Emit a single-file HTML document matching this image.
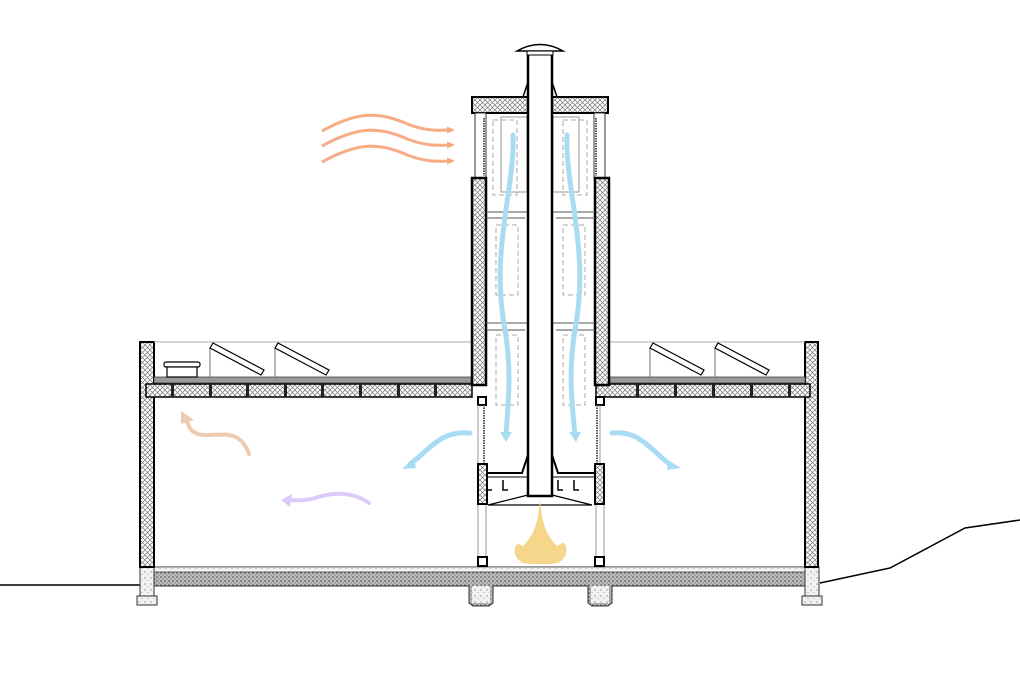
<!DOCTYPE html>
<html><head><meta charset="utf-8"><style>html,body{margin:0;padding:0;background:#fff}svg{display:block}</style></head><body>
<svg width="1020" height="680" viewBox="0 0 1020 680" xmlns="http://www.w3.org/2000/svg">
<defs>
<pattern id="ins" width="5" height="5" patternUnits="userSpaceOnUse">
<rect width="5" height="5" fill="#fff"/><path d="M0 0L5 5M5 0L0 5" stroke="#777" stroke-width="0.7"/></pattern>
<pattern id="conc" width="4" height="4" patternUnits="userSpaceOnUse">
<rect width="4" height="4" fill="#bdbdbd"/><circle cx="1" cy="1" r="0.8" fill="#444"/><circle cx="3" cy="3" r="0.6" fill="#666"/></pattern>
<pattern id="conc2" width="6" height="6" patternUnits="userSpaceOnUse">
<rect width="6" height="6" fill="#f2f2f2"/><circle cx="1" cy="2" r="0.6" fill="#666"/><circle cx="4" cy="4.5" r="0.5" fill="#888"/></pattern>
<marker id="ao" markerWidth="8" markerHeight="8" refX="5" refY="4" orient="auto" markerUnits="userSpaceOnUse"><path d="M0 0.5L8 4L0 7.5z" fill="#f8a882"/></marker>
</defs>
<path d="M0 585H140M820 583L890 568L965 528L1020 520" stroke="#000" stroke-width="1.5" fill="none"/>
<path d="M150 567H805V586H612V603L608 606H592L588 603V586H493V603L489 606H473L469 603V586H150Z" fill="url(#conc)" stroke="#333"/>
<rect x="150" y="567" width="655" height="5" fill="url(#conc2)" stroke="#333" stroke-width="0.7"/>
<path d="M472 586H490V603H472ZM591 586H609V603H591Z" fill="url(#conc2)"/>
<rect x="140" y="567" width="14" height="30" fill="url(#conc2)" stroke="#333"/>
<rect x="137" y="596" width="20" height="9" fill="url(#conc2)" stroke="#333"/>
<rect x="805" y="567" width="14" height="30" fill="url(#conc2)" stroke="#333"/>
<rect x="802" y="596" width="20" height="9" fill="url(#conc2)" stroke="#333"/>
<rect x="140" y="342" width="14" height="225" fill="url(#ins)" stroke="#000" stroke-width="2"/>
<rect x="805" y="342" width="13" height="225" fill="url(#ins)" stroke="#000" stroke-width="2"/>
<path d="M154 342H472M608 342H805" stroke="#aaa" stroke-width="1"/>
<rect x="154" y="377" width="318" height="6" fill="#999" stroke="#444" stroke-width="0.8"/>
<rect x="146" y="384" width="326" height="13" fill="url(#ins)" stroke="#000" stroke-width="1.5"/>
<rect x="608" y="377" width="197" height="6" fill="#999" stroke="#444" stroke-width="0.8"/>
<rect x="596" y="384" width="214" height="13" fill="url(#ins)" stroke="#000" stroke-width="1.5"/>
<g fill="#222"><rect x="171" y="384" width="3" height="13"/><rect x="209" y="384" width="3" height="13"/><rect x="246" y="384" width="3" height="13"/><rect x="284" y="384" width="3" height="13"/><rect x="321" y="384" width="3" height="13"/><rect x="359" y="384" width="3" height="13"/><rect x="397" y="384" width="3" height="13"/><rect x="434" y="384" width="3" height="13"/>
<rect x="636" y="384" width="3" height="13"/><rect x="674" y="384" width="3" height="13"/><rect x="712" y="384" width="3" height="13"/><rect x="750" y="384" width="3" height="13"/><rect x="788" y="384" width="3" height="13"/></g>
<g stroke="#000" fill="#fff" stroke-width="1.2">
<rect x="164" y="362" width="36" height="5" rx="2"/><rect x="167" y="367" width="30" height="10"/>
<path d="M210 377V348M275 377V348M650 377V348M715 377V348" stroke="#888"/>
<polygon points="210,348 213,343 264,370 261,375"/><polygon points="275,348 278,343 329,370 326,375"/>
<polygon points="650,348 653,343 704,370 701,375"/><polygon points="715,348 718,343 769,370 766,375"/>
</g>
<rect x="472" y="97" width="56" height="16" fill="url(#ins)" stroke="#000" stroke-width="2"/>
<rect x="552" y="97" width="56" height="16" fill="url(#ins)" stroke="#000" stroke-width="2"/>
<rect x="475" y="113" width="11" height="65" fill="#fff" stroke="#333"/>
<rect x="594" y="113" width="11" height="65" fill="#fff" stroke="#333"/>
<path d="M484 118V176M596 118V176" stroke="#555" stroke-width="2" stroke-dasharray="1.5 1"/>
<rect x="472" y="178" width="14" height="207" fill="url(#ins)" stroke="#000" stroke-width="2.5"/>
<rect x="595" y="178" width="14" height="207" fill="url(#ins)" stroke="#000" stroke-width="2.5"/>
<rect x="478" y="397" width="8" height="8" fill="#fff" stroke="#000" stroke-width="2"/>
<rect x="596" y="397" width="8" height="8" fill="#fff" stroke="#000" stroke-width="2"/>
<path d="M484 405V465M597 405V465" stroke="#555" stroke-width="2" stroke-dasharray="1.5 1"/>
<path d="M478 405V505M600 405V505" stroke="#999"/>
<rect x="478" y="464" width="9" height="40" fill="url(#ins)" stroke="#000" stroke-width="2"/>
<rect x="595" y="464" width="9" height="40" fill="url(#ins)" stroke="#000" stroke-width="2"/>
<path d="M478 505V560M486 505V560M596 505V560M604 505V560" stroke="#aaa" stroke-width="1.2"/>
<rect x="478" y="557" width="9" height="9" fill="#fff" stroke="#000" stroke-width="2"/>
<rect x="595" y="557" width="9" height="9" fill="#fff" stroke="#000" stroke-width="2"/>
<path d="M486 473H522L528 455M595 473H558L552 455" stroke="#000" stroke-width="2" fill="none"/>
<path d="M486 477H528M552 477H595" stroke="#000" stroke-width="1"/>
<path d="M487 480V490H492M503 480V490H508M558 480V490H563M574 480V490H579" stroke="#000" stroke-width="1.5" fill="none"/>
<path d="M488 505L528 495M592 505L552 495M488 505H592" stroke="#000" stroke-width="1.2" fill="none"/>
<g stroke="#555" stroke-width="1"><path d="M486 212H528M486 218H525M552 212H595M556 218H595M486 323H528M486 330H525M552 323H595M556 330H595"/></g>
<g fill="none" stroke="#aaa" stroke-dasharray="5 3"><rect x="493" y="120" width="24" height="75"/><rect x="563" y="120" width="24" height="75"/><rect x="496" y="225" width="22" height="70"/><rect x="563" y="225" width="22" height="70"/><rect x="496" y="335" width="22" height="70"/><rect x="563" y="335" width="22" height="70"/></g>
<g fill="none" stroke="#999"><rect x="501" y="117" width="26" height="75"/><rect x="553" y="117" width="26" height="75"/></g>
<rect x="528" y="52" width="24" height="444" fill="#fff" stroke="#000" stroke-width="2.5"/>
<path d="M528 82L523 97M552 82L557 97" stroke="#000" stroke-width="1.5"/>
<path d="M517 51Q540 38 563 51Z" fill="#fff" stroke="#000" stroke-width="1.5"/>
<rect x="527" y="51" width="26" height="4" fill="#fff" stroke="#000"/>
<path d="M540 497C541 520 546 535 556 545C560 548 562 538 566 546C568 556 562 564 550 564H530C519 564 513 556 515 547C519 540 521 548 524 545C534 535 539 520 540 497Z" fill="#f6d68a"/>
<g fill="none" stroke="#a8dcf3" stroke-width="5" stroke-linecap="round">
<path d="M513 135C515 190 490 250 505 330C512 370 508 405 506 435"/>
<path d="M567 135C565 190 590 250 575 330C568 370 572 405 575 435"/>
<path d="M470 433C440 430 430 450 410 464"/>
<path d="M612 433C640 430 650 450 672 466"/>
</g>
<g fill="#a8dcf3"><polygon points="500,432 512,432 506,442"/><polygon points="569,432 581,432 576,442"/><polygon points="402,469 414,458 416,468"/><polygon points="681,468 668,460 667,470"/></g>
<g fill="none" stroke="#f8ac86" stroke-width="3" marker-end="url(#ao)">
<path d="M322 131C360 110 380 112 410 125C430 132 440 130 452 130"/>
<path d="M322 146C360 125 380 127 410 140C430 147 440 145 452 145"/>
<path d="M322 162C360 141 380 143 410 156C430 163 440 161 452 161"/>
</g>
<path d="M249 454C240 430 225 435 205 435C190 435 188 425 186 418" fill="none" stroke="#eccbb0" stroke-width="4" stroke-linecap="round"/>
<polygon points="181,411 194,420 181,424" fill="#eccbb0"/>
<path d="M369 503C350 490 330 493 315 498C300 502 292 500 288 500" fill="none" stroke="#dccbf8" stroke-width="4" stroke-linecap="round"/>
<polygon points="281,500 292,494 290,507" fill="#dccbf8"/>
</svg>
</body></html>
